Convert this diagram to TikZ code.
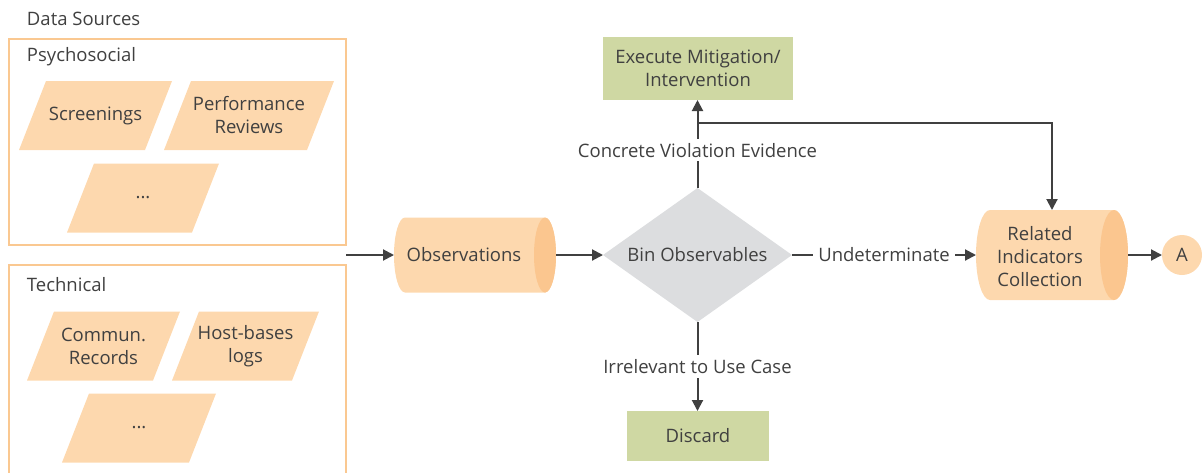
\documentclass[tikz,border=0pt]{standalone}
\usepackage{fontspec}
\setmainfont{Open Sans}
\usetikzlibrary{arrows.meta,calc,shapes.geometric}
\pgfdeclarelayer{background}
\pgfsetlayers{background,main}
\definecolor{ink}{HTML}{404040}
\definecolor{peach}{HTML}{FDD8AE}
\definecolor{peachdark}{HTML}{FBC68F}
\definecolor{frameor}{HTML}{FAC891}
\definecolor{sage}{HTML}{CFD8A3}
\definecolor{stone}{HTML}{DCDDDF}
% body and end cap of a horizontal cylinder drawn behind node #1
% #2 = x radius of the end ellipse, #3 = half height
\newcommand\cylinderbody[3]{%
  \begin{pgfonlayer}{background}
    \fill[peach] ($(#1.north west)+(#2,0)$) -- ($(#1.north east)+(-#2,0)$)
      arc[start angle=90,end angle=-90,x radius=#2,y radius=#3]
      -- ($(#1.south west)+(#2,0)$)
      arc[start angle=270,end angle=90,x radius=#2,y radius=#3] -- cycle;
    \fill[peachdark] ($(#1.east)+(-#2,0)$) ellipse[x radius=#2,y radius=#3];
  \end{pgfonlayer}}
% right-leaning parallelogram behind node #1
\newcommand\slantbody[1]{%
  \begin{pgfonlayer}{background}
    \fill[peach] ($(#1.south west)+(-13.5pt,0)$) -- ($(#1.south east)+(-13.5pt,0)$)
      -- ($(#1.north east)+(13.5pt,0)$) -- ($(#1.north west)+(13.5pt,0)$) -- cycle;
  \end{pgfonlayer}}
\begin{document}
\begin{tikzpicture}[x=1pt,y=-1pt,
  font=\fontsize{18.5}{23}\selectfont, text=ink,
  every node/.style={inner sep=0pt, outer sep=0pt},
  group/.style={draw=frameor, line width=2pt},
  caption/.style={anchor=west},
  source/.style={minimum height=69pt, minimum width=#1, align=center},
  action/.style={fill=sage, align=center},
  decision/.style={diamond, fill=stone, minimum width=189pt, minimum height=134pt, aspect=1.41},
  connector/.style={circle, fill=peach, minimum size=40pt},
  flow/.style={draw=ink, line width=2pt, -{Triangle[length=11pt,width=11pt]}},
  tag/.style={fill=white, inner xsep=5pt, inner ysep=4pt}
]
\useasboundingbox (0,0) rectangle (1202,472);

% data source groups
\node[caption] (title) at (27,19) {Data Sources};
\node[group, minimum width=337pt, minimum height=206pt] (psy) at (177.5,142) {};
\node[caption] (psyt) at (27,57) {Psychosocial};
\node[source=126pt] (scr) at (95.5,115.5) {Screenings};
\node[source=143pt] (perf) at (249,115.5) {Performance\\Reviews};
\node[source=125pt] (psyx) at (143,198) {...};
\slantbody{scr}\slantbody{perf}\slantbody{psyx}

\node[group, minimum width=337pt, minimum height=220pt] (tec) at (177.5,375) {};
\node[caption] (tect) at (27,285) {Technical};
\node[source=126pt] (com) at (103.5,346) {Commun.\\Records};
\node[source=120pt] (host) at (245.5,346) {Host-bases\\logs};
\node[source=127pt] (tecx) at (139,428) {...};
\slantbody{com}\slantbody{host}\slantbody{tecx}
\coordinate (src) at (346,255);

% main flow
\node[minimum width=162pt, minimum height=75pt] (obs) at (475,255) {Observations\hspace*{22pt}};
\cylinderbody{obs}{11pt}{37.5pt}
\node[decision] (bin) at (697.5,255) {Bin Observables};
\node[action, minimum width=190pt, minimum height=63pt] (exec) at (698,68.5) {Execute Mitigation/\\Intervention};
\node[action, minimum width=142pt, minimum height=50pt] (disc) at (698,436) {Discard};
\node[minimum width=152pt, minimum height=90pt] (rel) at (1052,255)
  {\begin{tabular}{@{}c@{}}\\[-15pt]Related\\Indicators\\Collection\end{tabular}\hspace*{24pt}};
\cylinderbody{rel}{14pt}{45pt}
\node[connector] (a) at (1182,255) {A};
\coordinate (split) at (697.5,123);

\draw[flow] (src) -- (obs);
\draw[flow] (obs) -- (bin);
\draw[flow] (bin.north) -- node[tag, pos=0.43] {Concrete Violation Evidence} (exec.south -| bin.north);
\draw[flow] (split) -| (rel.north);
\draw[flow] (bin.south) -- node[tag] {Irrelevant to Use Case} (disc.north -| bin.south);
\draw[flow] (bin.east) -- node[tag] {Undeterminate} (rel.west);
\draw[flow] (rel) -- (a);
\end{tikzpicture}
\end{document}
